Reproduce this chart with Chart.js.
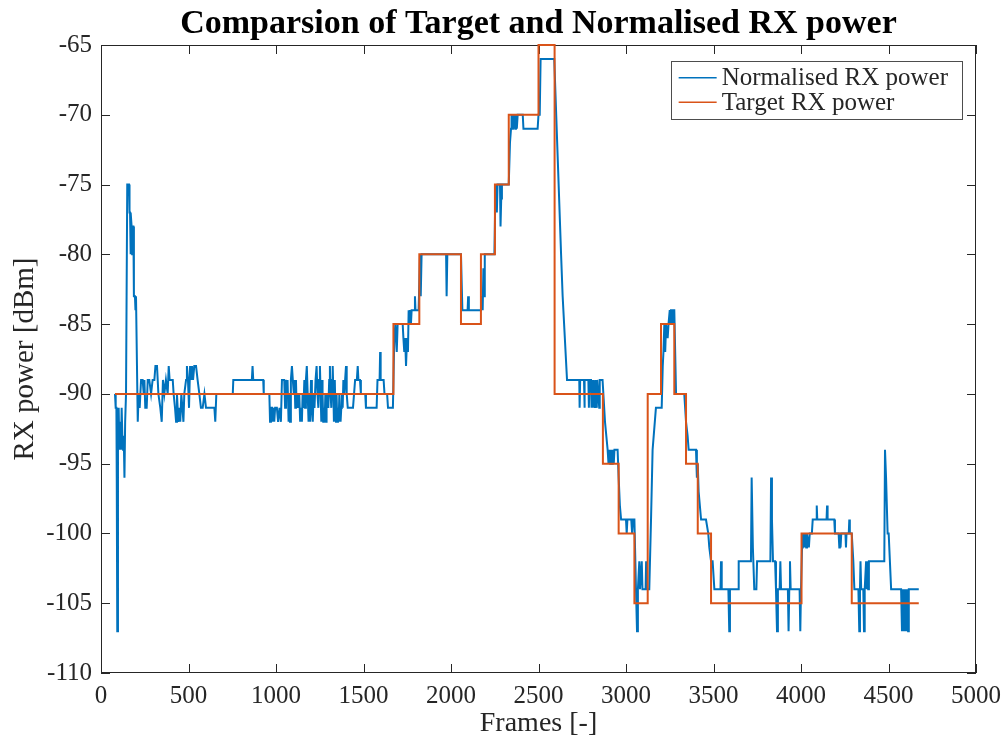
<!DOCTYPE html>
<html>
<head>
<meta charset="utf-8">
<title>Comparsion of Target and Normalised RX power</title>
<script src="https://cdn.jsdelivr.net/npm/chart.js@4.4.1/dist/chart.umd.min.js"></script>
<style>
  html, body { margin: 0; padding: 0; background: #fff; }
  #wrap { width: 1005px; height: 746px; }
</style>
</head>
<body>
<div id="wrap"><canvas id="rxChart" width="1005" height="746"></canvas></div>
<script>
// Ticks of both axes
const frameTicks = [0, 500, 1000, 1500, 2000, 2500, 3000, 3500, 4000, 4500, 5000];
const powerTicks = [-110, -105, -100, -95, -90, -85, -80, -75, -70, -65];

// Target RX power: frame where the level changes and the new level [dBm]
const targetFrames = [80, 1671, 1819, 2057, 2171, 2251, 2330, 2500, 2592, 2868, 2958,
                      3048, 3124, 3200, 3276, 3343, 3410, 3486, 4003, 4290, 4673];
const targetPower = [-90, -85, -80, -85, -80, -75, -70, -65, -90, -95, -100,
                     -105, -90, -85, -90, -95, -100, -105, -100, -105, -105];

// Normalised RX power, [frame, dBm]
const normalisedTrace = [
  // start-up transient
  [80,-90],[84,-91],[88,-91],[90,-96],[93,-107],[97,-94],[101,-91],[105,-94],[110,-92],[114,-94],
  [118,-91],[122,-93],[126,-94],[130,-93],[134,-96],[138,-92],[143,-90],[150,-75],[160,-75],[163,-77],
  [166,-77],[168,-80],[171,-77],[175,-78],[178,-80],[181,-78],[185,-78],[188,-83],[194,-83],[197,-84],
  [200,-83],[203,-83],[210,-92],
  // -90 dBm target, noisy
  [215,-90],[221,-91],[229,-89],[238,-89],[244,-90],[248,-89],[253,-91],[261,-91],[267,-89],[276,-89],
  [286,-90],[295,-89],[305,-89],[311,-88],[320,-88],[328,-90],[339,-91],[347,-92],[354,-89],[362,-90],
  [371,-89],[381,-90],[387,-88],[392,-89],[400,-89],[410,-89],[415,-90],[423,-91],[429,-92],[434,-90],
  [442,-92],[448,-91],[453,-92],[459,-90],[465,-91],[471,-92],[476,-90],[486,-89],[491,-88],[497,-89],
  [503,-91],[509,-88],[514,-89],[520,-88],[526,-89],[533,-88],[543,-88],[552,-89],[562,-90],[571,-91],
  [581,-91],[591,-90],[600,-91],[610,-91],[629,-91],[648,-91],[653,-92],[659,-90],
  [753,-90],[756,-89],[862,-89],[866,-88],[870,-89],[927,-89],[930,-90],[962,-90],[966,-92],[971,-91],
  [978,-91],[981,-92],[985,-91],[990,-92],[995,-91],[1005,-91],[1012,-92],[1020,-91],[1028,-92],[1034,-89],
  [1047,-89],[1052,-91],[1057,-89],[1062,-90],[1066,-89],[1072,-92],[1076,-90],[1080,-92],[1085,-89],[1091,-88],
  [1096,-89],[1102,-90],[1106,-89],[1110,-91],[1114,-89],[1118,-91],[1124,-90],[1128,-91],[1133,-90],[1138,-92],
  [1143,-91],[1148,-92],[1152,-90],[1157,-91],[1162,-89],[1166,-91],[1171,-89],[1176,-88],[1181,-90],[1186,-92],
  [1190,-90],[1195,-92],[1200,-89],[1205,-91],[1210,-92],[1215,-90],[1220,-91],[1226,-89],[1232,-88],[1237,-90],
  [1242,-91],[1246,-89],[1251,-88],[1255,-90],[1259,-92],[1263,-89],[1266,-90],[1270,-92],[1274,-91],[1278,-92],
  [1282,-90],[1286,-92],[1289,-91],[1294,-90],[1299,-91],[1304,-89],[1308,-88],[1312,-90],[1316,-91],[1320,-89],
  [1324,-88],[1328,-90],[1331,-92],[1336,-89],[1339,-91],[1343,-92],[1346,-90],[1350,-92],[1354,-91],[1358,-92],
  [1362,-90],[1366,-91],[1369,-92],[1373,-91],[1377,-90],[1381,-91],[1385,-89],[1390,-90],[1395,-89],[1400,-88],
  [1404,-90],[1410,-91],[1440,-91],[1446,-90],[1452,-89],[1462,-89],[1467,-88],[1471,-89],[1480,-89],[1485,-90],
  [1510,-90],[1514,-91],[1575,-91],[1580,-89],[1592,-89],[1595,-87],[1598,-89],[1615,-89],[1620,-90],[1635,-90],
  [1640,-91],[1668,-91],
  // climbing staircase
  [1676,-86],[1682,-85],[1686,-86],[1690,-87],[1695,-85],[1724,-85],[1728,-86],[1733,-87],[1738,-86],[1743,-88],
  [1749,-86],[1754,-87],[1758,-84],[1763,-85],[1766,-84],[1771,-85],[1775,-84],[1791,-84],[1794,-83],[1797,-84],
  [1815,-84],[1823,-80],[1827,-83],[1832,-80],[1972,-80],[1975,-83],[1979,-80],[2057,-80],[2065,-84],[2095,-84],
  [2098,-83],[2102,-84],[2171,-84],[2177,-83],[2181,-84],[2185,-81],[2189,-83],[2193,-80],[2248,-80],[2253,-76],
  [2258,-75],[2262,-77],[2266,-75],[2280,-75],[2283,-78],[2287,-76],[2291,-75],[2330,-75],[2337,-72],[2343,-71],
  [2346,-70],[2350,-71],[2354,-70],[2358,-71],[2362,-70],[2367,-71],[2371,-70],[2376,-71],[2381,-70],[2410,-70],
  [2414,-71],[2495,-71],[2500,-70],[2507,-70],[2512,-66],[2590,-66],[2629,-80],[2638,-83],[2663,-89],
  // falling staircase
  [2733,-89],[2735,-91],[2738,-89],[2760,-89],[2762,-91],[2765,-89],[2785,-89],[2788,-91],[2791,-89],[2800,-89],
  [2803,-91],[2806,-89],[2810,-91],[2813,-89],[2822,-91],[2825,-89],[2833,-91],[2836,-89],[2847,-91],[2850,-89],
  [2866,-89],[2880,-92],[2895,-94],[2900,-95],[2904,-94],[2910,-95],[2914,-94],[2920,-95],[2924,-94],[2930,-95],
  [2934,-94],[2952,-94],[2958,-96],[2965,-98],[2972,-99],[3000,-99],[3004,-100],[3008,-99],[3030,-99],[3035,-100],
  [3040,-99],[3048,-99],[3057,-104],[3063,-107],[3068,-104],[3076,-102],[3080,-104],[3090,-102],[3094,-104],[3112,-104],
  [3115,-102],[3118,-104],[3133,-104],
  // second peak
  [3143,-99],[3152,-94],[3171,-91],[3204,-91],[3210,-88],[3214,-87],[3219,-85],[3224,-87],[3229,-85],[3238,-86],
  [3243,-85],[3250,-84],[3254,-85],[3257,-84],[3264,-84],[3267,-85],[3271,-84],[3276,-84],[3286,-90],[3333,-90],
  [3343,-92],[3352,-93],[3358,-94],[3400,-94],[3405,-96],[3410,-95],[3415,-97],[3429,-99],[3457,-99],[3470,-100],
  [3476,-101],[3486,-102],[3495,-102],[3505,-104],
  // low level tail
  [3540,-104],[3543,-102],[3547,-104],[3585,-104],[3590,-107],[3594,-104],[3640,-104],[3644,-102],[3714,-102],[3718,-96],
  [3725,-101],[3733,-104],[3745,-104],[3749,-102],[3825,-102],[3829,-96],[3834,-99],[3840,-102],[3852,-102],[3857,-104],
  [3863,-107],[3868,-104],[3878,-104],[3882,-102],[3886,-104],[3925,-104],[3929,-107],[3933,-104],[3937,-102],[3941,-104],
  [3992,-104],[3996,-107],[4000,-104],[4006,-101],[4010,-100],[4014,-101],[4018,-100],[4022,-101],[4026,-100],[4030,-101],
  [4034,-100],[4045,-101],[4050,-100],[4062,-100],[4067,-99],[4087,-99],[4090,-98],[4093,-99],[4146,-99],[4149,-98],
  [4152,-99],[4190,-99],[4194,-100],[4215,-100],[4219,-101],[4222,-100],[4226,-101],[4230,-100],[4254,-100],[4257,-101],
  [4260,-100],[4273,-100],[4276,-99],[4279,-100],[4290,-100],[4299,-102],[4305,-104],[4328,-104],[4333,-107],[4337,-104],
  [4340,-102],[4344,-104],[4356,-104],[4360,-107],[4364,-104],[4372,-102],[4376,-104],[4380,-102],[4384,-104],[4388,-102],
  [4476,-102],[4480,-94],[4486,-96],[4495,-100],[4501,-100],[4508,-102],[4515,-104],[4572,-104],[4577,-107],[4581,-104],
  [4585,-107],[4589,-104],[4594,-107],[4598,-104],[4603,-107],[4607,-104],[4612,-107],[4616,-104],[4673,-104]
];

const serif = "'Liberation Serif', 'DejaVu Serif', serif";
const axisColor = '#262626';
const TICK_LEN = 9;

// MATLAB-like box with inward ticks on all four sides
const matlabAxes = {
  id: 'matlabAxes',
  beforeDatasetsDraw(chart) {
    const { ctx, chartArea: a, scales: { x, y } } = chart;
    ctx.save();
    ctx.strokeStyle = axisColor;
    ctx.lineWidth = 1;
    ctx.strokeRect(a.left + 0.5, a.top + 0.5, a.right - a.left - 1, a.bottom - a.top - 1);
    ctx.beginPath();
    frameTicks.forEach(v => {
      const px = Math.round(x.getPixelForValue(v)) + 0.5;
      ctx.moveTo(px, a.bottom); ctx.lineTo(px, a.bottom - TICK_LEN);
      ctx.moveTo(px, a.top); ctx.lineTo(px, a.top + TICK_LEN);
    });
    powerTicks.forEach(v => {
      const py = Math.round(y.getPixelForValue(v)) + 0.5;
      ctx.moveTo(a.left, py); ctx.lineTo(a.left + TICK_LEN, py);
      ctx.moveTo(a.right, py); ctx.lineTo(a.right - TICK_LEN, py);
    });
    ctx.stroke();
    ctx.restore();
  },
  // boxed legend in the top right corner
  afterDraw(chart) {
    const { ctx, chartArea: a } = chart;
    const sets = chart.data.datasets;
    ctx.save();
    ctx.font = '25px ' + serif;
    const textW = Math.max(...sets.map(d => ctx.measureText(d.label).width));
    const sampleLen = 38, rowH = 24.6;
    const boxW = 8 + sampleLen + 5 + textW + 14;
    const boxH = 58;
    const bx = a.right - 14 - boxW;
    const by = a.top + 16;
    ctx.fillStyle = '#fff';
    ctx.fillRect(bx, by, boxW, boxH);
    ctx.strokeStyle = '#4d4d4d';
    ctx.lineWidth = 1;
    ctx.strokeRect(Math.round(bx) + 0.5, Math.round(by) + 0.5, Math.round(boxW), Math.round(boxH));
    sets.forEach((d, i) => {
      const cy = by + 16.7 + i * rowH;
      ctx.strokeStyle = d.borderColor;
      ctx.lineWidth = 1.5;
      ctx.beginPath();
      ctx.moveTo(bx + 8, cy);
      ctx.lineTo(bx + 8 + sampleLen, cy);
      ctx.stroke();
      ctx.fillStyle = axisColor;
      ctx.textBaseline = 'middle';
      ctx.fillText(d.label, bx + 8 + sampleLen + 5, cy + 1);
    });
    ctx.restore();
  }
};

const ctx = document.getElementById('rxChart').getContext('2d');
new Chart(ctx, {
  type: 'line',
  data: {
    datasets: [
      {
        label: 'Normalised RX power',
        data: normalisedTrace.map(p => ({ x: p[0], y: p[1] })),
        borderColor: '#0072BD',
        borderWidth: 2,
        pointRadius: 0,
        tension: 0,
        order: 1,
        clip: 2
      },
      {
        label: 'Target RX power',
        data: targetFrames.map((f, i) => ({ x: f, y: targetPower[i] })),
        borderColor: '#D95319',
        borderWidth: 2,
        pointRadius: 0,
        stepped: 'before',
        order: 0,
        clip: 3
      }
    ]
  },
  options: {
    responsive: false,
    animation: false,
    events: [],
    layout: { padding: { top: 0, right: 29, bottom: 0, left: 0 } },
    plugins: {
      legend: { display: false },
      tooltip: { enabled: false },
      title: {
        display: true,
        text: 'Comparsion of Target and Normalised RX power',
        fullSize: false,
        color: '#000',
        font: { family: serif, size: 34, weight: 'bold', lineHeight: 1.2 },
        padding: { top: 4, bottom: 0.2 }
      }
    },
    scales: {
      x: {
        type: 'linear',
        min: 0,
        max: 5000,
        afterBuildTicks: s => { s.ticks = frameTicks.map(v => ({ value: v })); },
        // fixed height, and no extra margin for the outer tick labels
        afterFit: s => { s.height = 73; s.paddingLeft = 0; s.paddingRight = 0; },
        grid: { display: false, drawTicks: false },
        border: { display: false },
        ticks: {
          color: axisColor,
          font: { family: serif, size: 25 },
          padding: 8,
          maxRotation: 0,
          autoSkip: false,
          callback: v => String(v)
        },
        title: {
          display: true,
          text: 'Frames [-]',
          color: axisColor,
          font: { family: serif, size: 28 },
          padding: { top: 0, bottom: 6 }
        }
      },
      y: {
        type: 'linear',
        min: -110,
        max: -65,
        afterBuildTicks: s => { s.ticks = powerTicks.map(v => ({ value: v })); },
        afterFit: s => { s.width = 101; s.paddingTop = 0; s.paddingBottom = 0; },
        grid: { display: false, drawTicks: false },
        border: { display: false },
        ticks: {
          color: axisColor,
          font: { family: serif, size: 25 },
          padding: 9,
          autoSkip: false,
          callback: v => String(v)
        },
        title: {
          display: true,
          text: 'RX power [dBm]',
          color: axisColor,
          font: { family: serif, size: 29 },
          padding: { top: 8, bottom: 0 }
        }
      }
    }
  },
  plugins: [matlabAxes]
});
</script>
</body>
</html>
